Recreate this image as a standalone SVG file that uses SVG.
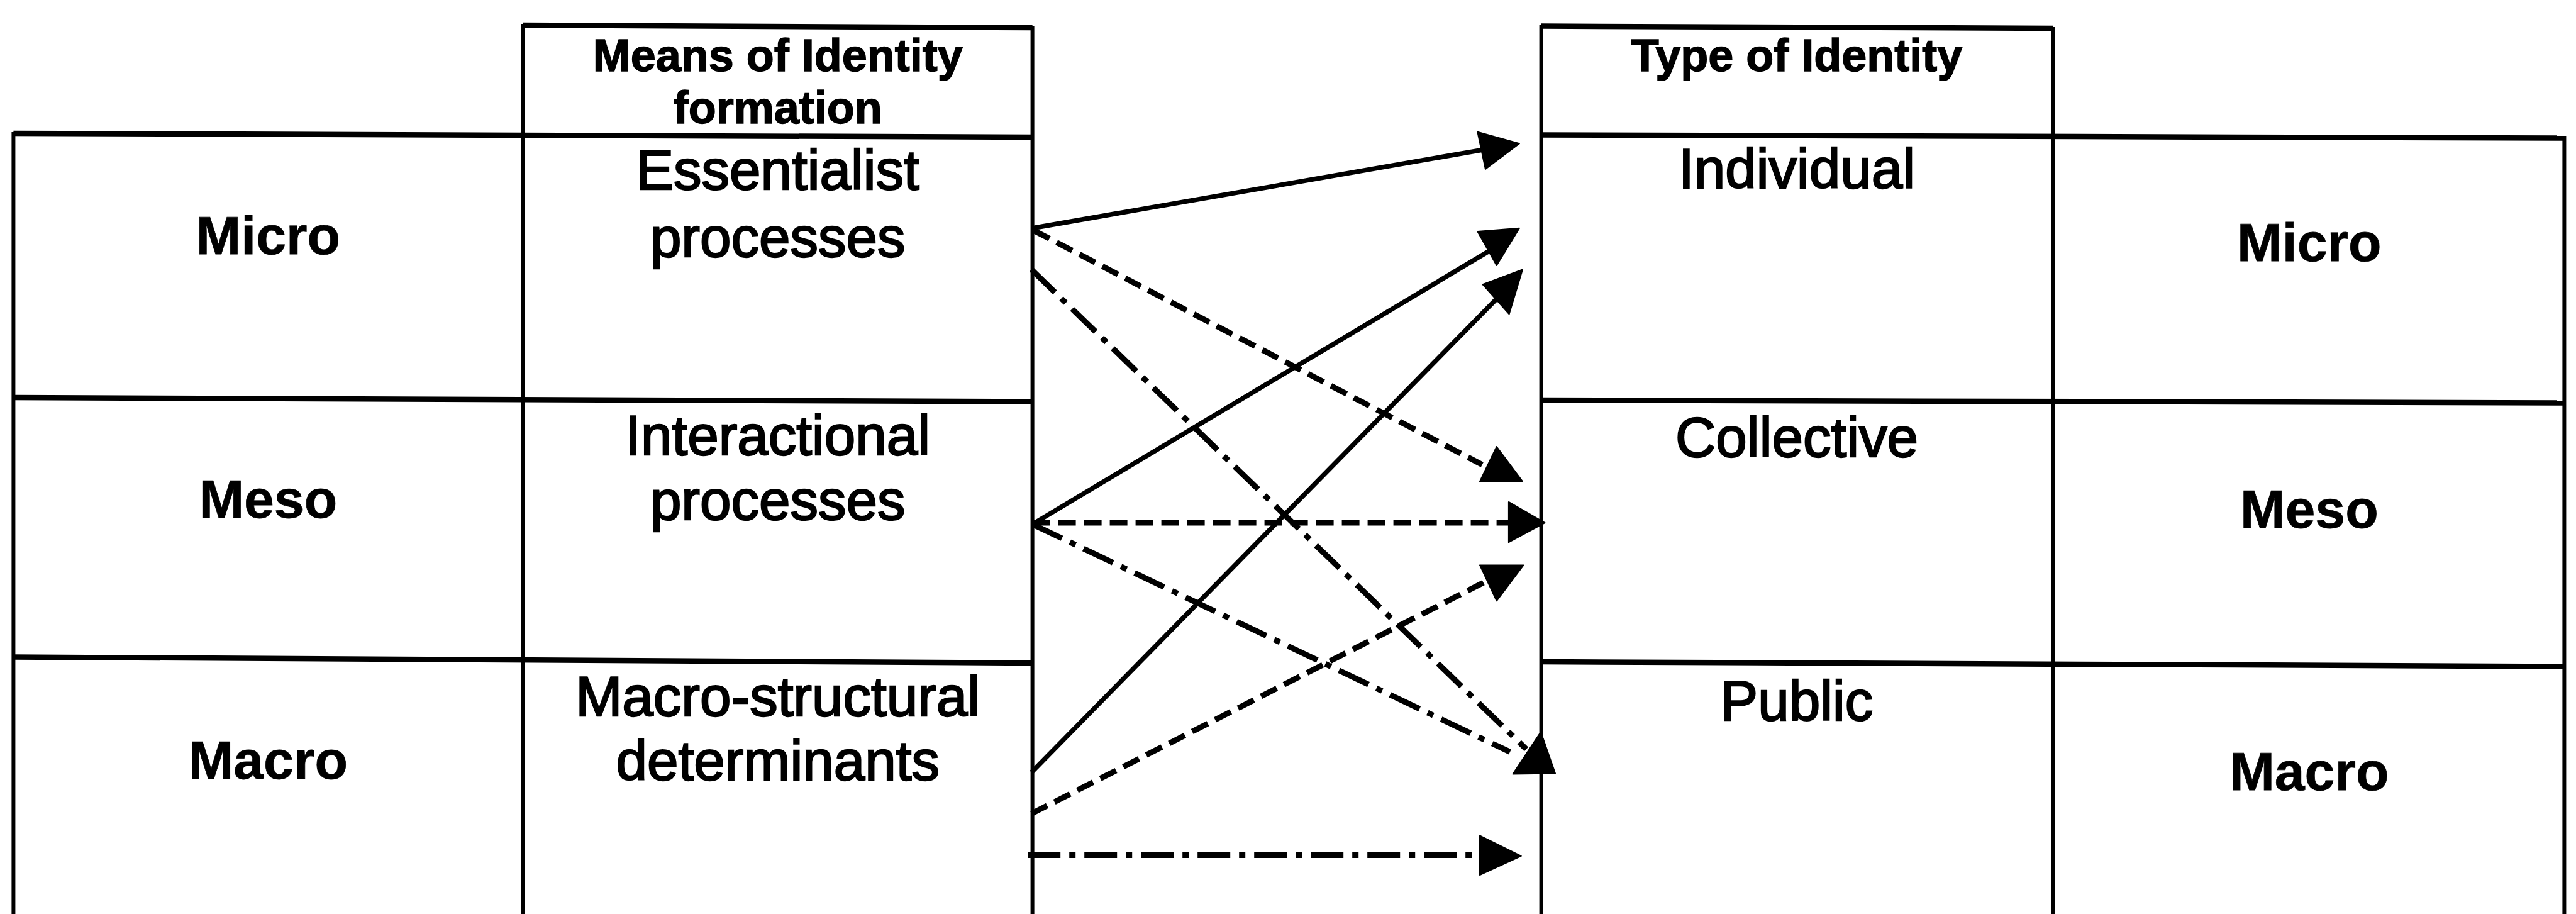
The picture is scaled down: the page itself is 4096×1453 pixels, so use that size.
<svg xmlns="http://www.w3.org/2000/svg" width="4096" height="1453" viewBox="0 0 4096 1453">
  <style>
    .hl { stroke: #000; stroke-width: 8.5; fill: none; }
    .vl { stroke: #000; stroke-width: 6; fill: none; }
    .t { font-family: "Liberation Sans", Arial, sans-serif; fill: #000; stroke: #000; text-anchor: middle; }
    .lvl { font-size: 86px; font-weight: bold; stroke-width: 0.8; }
    .hdr { font-size: 72px; font-weight: bold; stroke-width: 1.5; }
    .cell { font-size: 89px; stroke-width: 2.4; }
    .solid { stroke: #000; stroke-width: 7.5; fill: none; }
    .dash { stroke: #000; stroke-width: 9; fill: none; stroke-dasharray: 28 13; }
    .dashdot { stroke: #000; stroke-width: 9; fill: none; stroke-dasharray: 52 14 10 14; }
    .head { fill: #000; stroke: #000; stroke-width: 2; stroke-linejoin: round; }
  </style>
  <rect width="4096" height="1453" fill="#fff"/>

  <!-- left table: levels and means of identity formation -->
  <g id="left-table">
    <line class="hl" x1="831.9" y1="40" x2="1641.6" y2="44"/>
    <line class="hl" x1="21.4" y1="212" x2="1641.6" y2="218"/>
    <line class="hl" x1="21.4" y1="632" x2="1641.6" y2="638.5"/>
    <line class="hl" x1="21.4" y1="1044.5" x2="1641.6" y2="1054"/>
    <line class="vl" x1="21.4" y1="210" x2="21.4" y2="1453"/>
    <line class="vl" x1="831.9" y1="38" x2="831.9" y2="1453"/>
    <line class="vl" x1="1641.6" y1="42" x2="1641.6" y2="1453"/>
  </g>
  <g id="means-header">
    <text class="t hdr" x="1236.7" y="113">Means of Identity</text>
    <text class="t hdr" x="1236.7" y="195.8">formation</text>
  </g>
  <g id="micro-left"><text class="t lvl" x="426.3" y="404">Micro</text></g>
  <g id="meso-left"><text class="t lvl" x="426.3" y="823">Meso</text></g>
  <g id="macro-left"><text class="t lvl" x="426.3" y="1238">Macro</text></g>
  <g id="essentialist">
    <text class="t cell" x="1236.7" y="301.4">Essentialist</text>
    <text class="t cell" x="1236.7" y="407.8">processes</text>
  </g>
  <g id="interactional">
    <text class="t cell" x="1236.7" y="722.5">Interactional</text>
    <text class="t cell" x="1236.7" y="826">processes</text>
  </g>
  <g id="macro-structural">
    <text class="t cell" x="1236.7" y="1137.7">Macro-structural</text>
    <text class="t cell" x="1236.7" y="1240.4">determinants</text>
  </g>

  <!-- right table: type of identity and levels -->
  <g id="right-table">
    <line class="hl" x1="2450.6" y1="41.5" x2="3264" y2="45"/>
    <line class="hl" x1="2450.6" y1="214.5" x2="4077.4" y2="219.5"/>
    <line class="hl" x1="2450.6" y1="636" x2="4077.4" y2="640.5"/>
    <line class="hl" x1="2450.6" y1="1052" x2="4077.4" y2="1059.5"/>
    <line class="vl" x1="2450.6" y1="39.5" x2="2450.6" y2="1453"/>
    <line class="vl" x1="3264" y1="43" x2="3264" y2="1453"/>
    <line class="vl" x1="4077.4" y1="216" x2="4077.4" y2="1453"/>
  </g>
  <g id="type-header"><text class="t hdr" x="2857" y="113">Type of Identity</text></g>
  <g id="individual"><text class="t cell" x="2857" y="299.2">Individual</text></g>
  <g id="collective"><text class="t cell" x="2857" y="725.5">Collective</text></g>
  <g id="public"><text class="t cell" x="2857" y="1145">Public</text></g>
  <g id="micro-right"><text class="t lvl" x="3671.8" y="414.5">Micro</text></g>
  <g id="meso-right"><text class="t lvl" x="3671.8" y="838.5">Meso</text></g>
  <g id="macro-right"><text class="t lvl" x="3671.8" y="1256">Macro</text></g>

  <!-- connectors between the two tables -->
  <g id="connectors">
    <!-- from essentialist processes -->
    <line class="solid" x1="1641.6" y1="362.7" x2="2355.3" y2="238.6"/>
    <polygon class="head" points="2349.4,209.8 2415.9,228.3 2361.9,268.9"/>
    <line class="dash" x1="1643.8" y1="366.4" x2="2356.8" y2="738.8"/>
    <polygon class="head" points="2379.7,710 2421,765.4 2353,765.4"/>
    <line class="dashdot" x1="1640.1" y1="428.5" x2="2426.9" y2="1190.9"/>
    <polygon class="head" points="2450,1163.5 2473,1229.5 2405.5,1230.5"/>

    <!-- from interactional processes -->
    <line class="solid" x1="1641.6" y1="833.4" x2="2367.9" y2="399"/>
    <polygon class="head" points="2349.4,367.9 2415.9,362.7 2379.7,421.9"/>
    <line class="dash" x1="1641.6" y1="831.1" x2="2401" y2="831.1"/>
    <polygon class="head" points="2398.9,797.9 2456.5,831.1 2398.9,862.2"/>
    <line class="dashdot" x1="1641.6" y1="833.4" x2="2401" y2="1195.4"/>

    <!-- from macro-structural determinants -->
    <line class="solid" x1="1640.1" y1="1227.9" x2="2378.9" y2="475.8"/>
    <polygon class="head" points="2357.5,452.1 2421,428.5 2399.6,499.4"/>
    <line class="dash" x1="1640.1" y1="1293.6" x2="2371.5" y2="919.8"/>
    <polygon class="head" points="2353,898.4 2422.5,898.4 2379.7,955.3"/>
    <line class="dashdot" x1="1634.2" y1="1359.4" x2="2356.8" y2="1359.4"/>
    <polygon class="head" points="2353,1328.4 2418.8,1360.9 2353,1391.2"/>
  </g>
</svg>
